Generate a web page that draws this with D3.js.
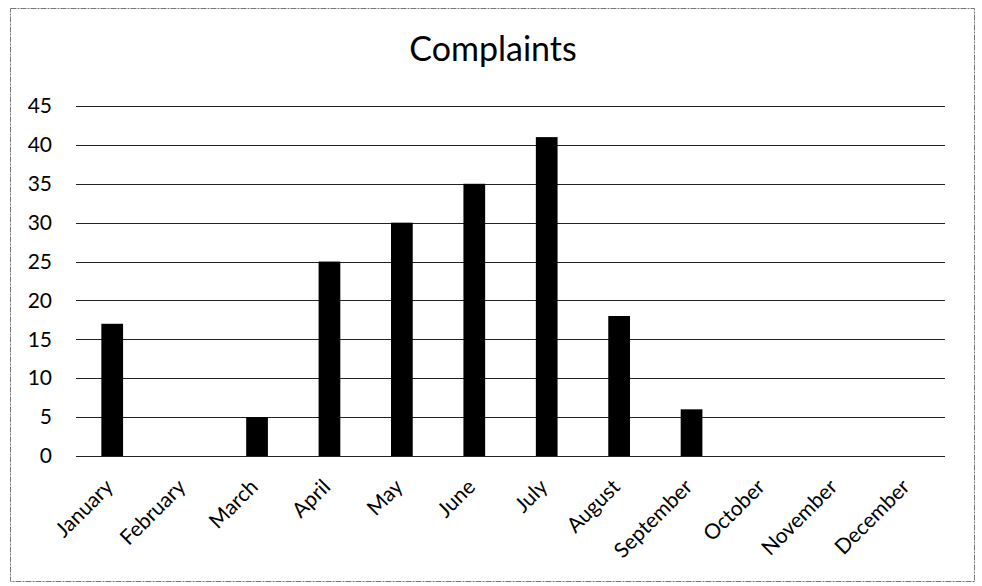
<!DOCTYPE html>
<html>
<head>
<meta charset="utf-8">
<script src="https://cdn.jsdelivr.net/npm/d3@7"></script>
<style>
  html, body { margin: 0; padding: 0; background: #fff; }
  svg { display: block; }
  text { font-family: Lato, "Open Sans", "Liberation Sans", sans-serif; fill: #000; }
</style>
</head>
<body>
<svg id="chart" width="982" height="586"></svg>
<script>
// Monthly complaint counts
const months = ["January", "February", "March", "April", "May", "June",
                "July", "August", "September", "October", "November", "December"];
const complaints = [17, 0, 5, 25, 30, 35, 41, 18, 6, 0, 0, 0];
const yTicks = [0, 5, 10, 15, 20, 25, 30, 35, 40, 45];
const chartTitle = "Complaints";

const svg = d3.select("#chart");

// Outer frame
svg.append("rect")
  .attr("x", 10.5).attr("y", 8.5)
  .attr("width", 964).attr("height", 573)
  .attr("fill", "none")
  .attr("stroke", "#777")
  .attr("stroke-width", 1)
  .attr("stroke-dasharray", "6,1,2,1");

const plot = { left: 76, right: 945, top: 106, bottom: 456 };

const x = d3.scaleBand()
  .domain(months)
  .range([plot.left, plot.right])
  .paddingInner(0.7)
  .paddingOuter(0.35);

const y = d3.scaleLinear()
  .domain([0, 45])
  .range([plot.bottom, plot.top]);

// Title
svg.append("text")
  .attr("x", 493).attr("y", 61)
  .attr("text-anchor", "middle")
  .attr("font-size", 34)
  .text(chartTitle);

// Horizontal gridlines
svg.append("g")
  .selectAll("line")
  .data(yTicks)
  .join("line")
  .attr("x1", plot.left).attr("x2", plot.right)
  .attr("y1", d => Math.round(y(d)) + 0.5)
  .attr("y2", d => Math.round(y(d)) + 0.5)
  .attr("stroke", "#222")
  .attr("stroke-width", 1);

// Y axis labels
const yAxis = d3.axisLeft(y).tickValues(yTicks).tickSize(0).tickPadding(0);
const gy = svg.append("g")
  .attr("transform", `translate(${plot.left - 24},0)`)
  .call(yAxis);
gy.select(".domain").remove();
gy.selectAll("text")
  .attr("font-size", 21)
  .attr("font-family", "Lato, 'Open Sans', sans-serif")
  .attr("fill", "#000");

// Bars
svg.append("g")
  .selectAll("rect")
  .data(months.map((m, i) => ({ m, v: complaints[i] })))
  .join("rect")
  .attr("x", d => x(d.m))
  .attr("width", x.bandwidth())
  .attr("y", d => y(d.v))
  .attr("height", d => y(0) - y(d.v))
  .attr("fill", "#000");

// Category axis labels, rotated
const xAxis = d3.axisBottom(x).tickSize(0).tickPadding(0);
const gx = svg.append("g")
  .attr("transform", `translate(0,${plot.bottom})`)
  .call(xAxis);
gx.select(".domain").remove();
gx.selectAll("text")
  .attr("font-size", 21)
  .attr("font-family", "Lato, 'Open Sans', sans-serif")
  .attr("fill", "#000")
  .attr("text-anchor", "end")
  .attr("dy", "0.35em")
  .attr("transform", "translate(-3,27) rotate(-45)");
</script>
</body>
</html>
